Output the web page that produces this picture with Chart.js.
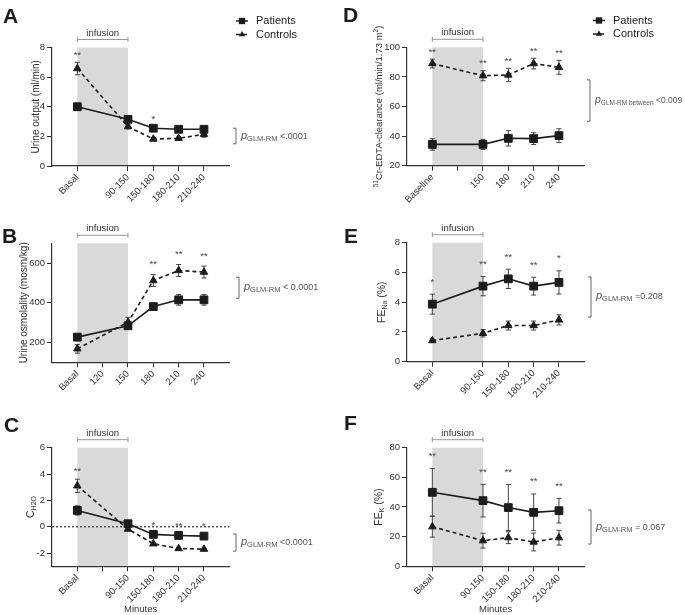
<!DOCTYPE html>
<html lang="en">
<head>
<meta charset="UTF-8" />
<title>Renal response to infusion: patients vs controls</title>
<style>
  body { margin: 0; background: #fff; }
  #fig { position: relative; width: 685px; height: 615px; overflow: hidden; }
  #fig canvas { position: absolute; }
</style>
</head>
<body>
<div id="fig">
  <canvas id="chartA"></canvas>
  <canvas id="chartB"></canvas>
  <canvas id="chartC"></canvas>
  <canvas id="chartD"></canvas>
  <canvas id="chartE"></canvas>
  <canvas id="chartF"></canvas>
</div>

<script src="https://cdn.jsdelivr.net/npm/chart.js@4"></script>
<script>
// position of each sample on the time axis (one empty slot between basal and first post-infusion sample)
const xPos = [0, 2, 3, 4, 5];
const infusionSpan = [0, 2];

// A - urine output
const xTicksA = [0, 2, 3, 4, 5];
const xLabelsA = ['Basal', '90-150', '150-180', '180-210', '210-240'];
const yTicksA = [0, 2, 4, 6, 8];
const patientsA = [4.0, 3.15, 2.55, 2.48, 2.48];
const patientsErrA = [0.23, 0.15, 0.12, 0.12, 0.12];
const controlsA = [6.58, 2.66, 1.82, 1.87, 2.14];
const controlsErrA = [0.42, 0.15, 0.1, 0.1, 0.2];
const starsA = ['**', '', '*', '', ''];

// B - urine osmolality
const xTicksB = [0, 1, 2, 3, 4, 5];
const xLabelsB = ['Basal', '120', '150', '180', '210', '240'];
const yTicksB = [200, 400, 600];
const patientsB = [227, 284, 381, 415, 415];
const patientsErrB = [18, 15, 16, 27, 27];
const controlsB = [168, 302, 512, 563, 555];
const controlsErrB = [22, 25, 30, 30, 30];
const starsB = ['', '', '**', '**', '**'];

// C - free water clearance
const xTicksC = [0, 1, 2, 3, 4, 5];
const xLabelsC = ['Basal', '', '90-150', '150-180', '180-210', '210-240'];
const yTicksC = [-2, 0, 2, 4, 6];
const patientsC = [1.24, 0.23, -0.58, -0.66, -0.71];
const patientsErrC = [0.35, 0.12, 0.1, 0.1, 0.1];
const controlsC = [3.11, -0.18, -1.29, -1.65, -1.70];
const controlsErrC = [0.5, 0.1, 0.1, 0.08, 0.08];
const starsC = ['**', '', '*', '**', '*'];

// D - 51Cr-EDTA clearance
const xTicksD = [0, 1, 2, 3, 4, 5];
const xLabelsD = ['Baseline', '', '150', '180', '210', '240'];
const yTicksD = [20, 40, 60, 80, 100];
const patientsD = [34.4, 34.4, 38.5, 38.3, 40.3];
const patientsErrD = [3.9, 3.4, 5.2, 4.0, 4.7];
const controlsD = [89.0, 80.8, 81.3, 89.0, 86.5];
const controlsErrD = [3.0, 3.4, 4.5, 3.6, 4.7];
const starsD = ['**', '**', '**', '**', '**'];

// E - FE Na
const xTicksE = [0, 2, 3, 4, 5];
const xLabelsE = ['Basal', '90-150', '150-180', '180-210', '210-240'];
const yTicksE = [0, 2, 4, 6, 8];
const patientsE = [3.87, 5.08, 5.57, 5.08, 5.33];
const patientsErrE = [0.67, 0.65, 0.65, 0.6, 0.78];
const controlsE = [1.42, 1.91, 2.43, 2.43, 2.81];
const controlsErrE = [0.1, 0.25, 0.3, 0.3, 0.34];
const starsE = ['*', '**', '**', '**', '*'];

// F - FE K
const xTicksF = [0, 2, 3, 4, 5];
const xLabelsF = ['Basal', '90-150', '150-180', '180-210', '210-240'];
const yTicksF = [0, 20, 40, 60, 80];
const patientsF = [49.9, 44.3, 39.6, 36.4, 37.5];
const patientsErrF = [16, 11, 15.5, 12.4, 8.3];
const controlsF = [26.7, 17.3, 19.3, 16.4, 19.3];
const controlsErrF = [7, 5, 4, 6, 5];
const starsF = ['**', '**', '**', '**', '**'];

const FONT = "'Liberation Sans', Arial, Helvetica, sans-serif";
const INK = '#1c1c1c';
Chart.defaults.font.family = FONT;

const pSeg = { t: 'p', size: 11, italic: true };
const panels = [
  { id: 'chartA', letter: 'A', letterPos: [3, 22.5], box: [0, 0, 342, 205], area: [52, 47.5, 229.3, 166],
    yRange: [0, 8], yTicks: yTicksA, xTicks: xTicksA, xLabels: xLabelsA,
    patients: patientsA, patientsErr: patientsErrA, controls: controlsA, controlsErr: controlsErrA,
    stars: starsA, starGap: 10, titleX: 35,
    title: [{ t: 'Urine output (ml/min)', size: 10 }],
    legend: [236, 21], bracket: [236, 1.5, 2.55],
    pText: [pSeg, { t: 'GLM-RM', size: 7.5, dy: 2 }, { t: ' <.0001', size: 9 }] },
  { id: 'chartB', letter: 'B', letterPos: [2, 243], box: [0, 205, 342, 200], area: [52, 243.3, 229.3, 362.3],
    yRange: [100, 700], yTicks: yTicksB, xTicks: xTicksB, xLabels: xLabelsB,
    patients: patientsB, patientsErr: patientsErrB, controls: controlsB, controlsErr: controlsErrB,
    stars: starsB, starGap: 13, titleX: 23.5,
    title: [{ t: 'Urine osmolality (mosm/kg)', size: 10 }],
    bracket: [239, 423, 529],
    pText: [pSeg, { t: 'GLM-RM', size: 7.5, dy: 2 }, { t: ' < 0.0001', size: 9 }] },
  { id: 'chartC', letter: 'C', letterPos: [4, 432], box: [0, 405, 342, 210], area: [52, 447.7, 229.3, 566.3],
    yRange: [-3, 6], yTicks: yTicksC, xTicks: xTicksC, xLabels: xLabelsC,
    patients: patientsC, patientsErr: patientsErrC, controls: controlsC, controlsErr: controlsErrC,
    stars: starsC, starGap: 11, titleX: 30, zeroLine: true, minutes: true,
    title: [{ t: 'C', size: 10.5 }, { t: 'H2O', size: 7, dy: 2.5 }],
    bracket: [236, -1.85, -0.55],
    pText: [pSeg, { t: 'GLM-RM', size: 7.5, dy: 2 }, { t: ' <0.0001', size: 9 }] },
  { id: 'chartD', letter: 'D', letterPos: [343, 22], box: [342, 0, 343, 205], area: [407, 47.3, 584.3, 165.7],
    yRange: [20, 100], yTicks: yTicksD, xTicks: xTicksD, xLabels: xLabelsD,
    patients: patientsD, patientsErr: patientsErrD, controls: controlsD, controlsErr: controlsErrD,
    stars: starsD, starGap: 10, titleX: 378,
    title: [{ t: '51', size: 6.5, dy: -3.5 }, { t: 'Cr-EDTA-clearance (ml/min/1.73 m', size: 9.5 },
            { t: '2', size: 6.5, dy: -3.5 }, { t: ')', size: 9.5 }],
    legend: [593, 20.5], bracket: [590, 50, 78],
    pText: [{ t: 'p', size: 10.5, italic: true }, { t: 'GLM-RM between', size: 6.5, dy: 2 }, { t: ' <0.009', size: 8.5 }] },
  { id: 'chartE', letter: 'E', letterPos: [344, 243], box: [342, 205, 343, 200], area: [407, 242.7, 584.3, 361.7],
    yRange: [0, 8], yTicks: yTicksE, xTicks: xTicksE, xLabels: xLabelsE,
    patients: patientsE, patientsErr: patientsErrE, controls: controlsE, controlsErr: controlsErrE,
    stars: starsE, starGap: 15, titleX: 381,
    title: [{ t: 'FE', size: 10.5 }, { t: 'Na', size: 7, dy: 2.5 }, { t: ' (%)', size: 10.5 }],
    bracket: [591, 3.0, 5.7],
    pText: [pSeg, { t: 'GLM-RM', size: 7.5, dy: 2 }, { t: ' =0.208', size: 9 }] },
  { id: 'chartF', letter: 'F', letterPos: [344, 430], box: [342, 405, 343, 210], area: [407, 447.7, 584.3, 566.3],
    yRange: [0, 80], yTicks: yTicksF, xTicks: xTicksF, xLabels: xLabelsF,
    patients: patientsF, patientsErr: patientsErrF, controls: controlsF, controlsErr: controlsErrF,
    stars: starsF, starGap: 15, titleX: 378, minutes: true,
    title: [{ t: 'FE', size: 10.5 }, { t: 'K', size: 7, dy: 2.5 }, { t: ' (%)', size: 10.5 }],
    bracket: [591, 15, 38],
    pText: [pSeg, { t: 'GLM-RM', size: 7.5, dy: 2 }, { t: ' = 0.067', size: 9 }] }
];

// rich text: segments with own size / offset (sub- and superscripts)
function drawRich(ctx, segs, x, y, rot, align) {
  ctx.save();
  ctx.translate(x, y);
  ctx.rotate(rot);
  const fonts = segs.map(s => (s.italic ? 'italic ' : '') + s.size + 'px ' + FONT);
  const widths = segs.map((s, i) => { ctx.font = fonts[i]; return ctx.measureText(s.t).width; });
  const total = widths.reduce((a, b) => a + b, 0);
  let cx = align === 'center' ? -total / 2 : 0;
  ctx.textAlign = 'left';
  ctx.textBaseline = 'alphabetic';
  segs.forEach((s, i) => {
    ctx.font = fonts[i];
    ctx.fillText(s.t, cx, 3.5 + (s.dy || 0));
    cx += widths[i];
  });
  ctx.restore();
}

function marker(ctx, style, x, y, r) {
  ctx.beginPath();
  if (style === 'rect') {
    const h = r * Math.SQRT1_2;
    ctx.rect(x - h, y - h, 2 * h, 2 * h);
  } else {
    ctx.moveTo(x, y - r);
    ctx.lineTo(x + r * 0.866, y + r * 0.5);
    ctx.lineTo(x - r * 0.866, y + r * 0.5);
    ctx.closePath();
  }
  ctx.fill();
}

const decor = {
  id: 'decor',
  beforeDraw(chart, args, opts) {
    const { ctx, chartArea: a, scales: { x } } = chart;
    const x0 = x.getPixelForValue(infusionSpan[0]);
    const x1 = x.getPixelForValue(infusionSpan[1]);
    ctx.save();
    ctx.fillStyle = '#d9d9d9';
    ctx.fillRect(x0, a.top, x1 - x0, a.bottom - a.top);
    ctx.restore();
  },
  beforeDatasetsDraw(chart, args, opts) {
    const p = opts.panel;
    const { ctx, chartArea: a, scales: { x, y } } = chart;
    ctx.save();
    if (p.zeroLine) {
      ctx.strokeStyle = '#444';
      ctx.lineWidth = 1.3;
      ctx.setLineDash([2, 2]);
      ctx.beginPath();
      ctx.moveTo(a.left, y.getPixelForValue(0));
      ctx.lineTo(a.right, y.getPixelForValue(0));
      ctx.stroke();
      ctx.setLineDash([]);
    }
    // error bars (mean +- SEM)
    ctx.strokeStyle = '#444';
    ctx.lineWidth = 1;
    chart.data.datasets.forEach(ds => {
      ds.data.forEach((pt, i) => {
        const e = ds.errors[i];
        const px = x.getPixelForValue(pt.x);
        const yt = y.getPixelForValue(pt.y + e);
        const yb = y.getPixelForValue(pt.y - e);
        ctx.beginPath();
        ctx.moveTo(px, yt); ctx.lineTo(px, yb);
        ctx.moveTo(px - 2.5, yt); ctx.lineTo(px + 2.5, yt);
        ctx.moveTo(px - 2.5, yb); ctx.lineTo(px + 2.5, yb);
        ctx.stroke();
      });
    });
    ctx.restore();
  },
  afterDraw(chart, args, opts) {
    const p = opts.panel;
    const { ctx, scales: { x, y } } = chart;
    const [bl, bt] = p.box;
    const [al, at, ar, ab] = p.area;
    ctx.save();
    ctx.translate(-bl, -bt);

    // panel letter
    ctx.fillStyle = INK;
    ctx.font = 'bold 21px ' + FONT;
    ctx.textAlign = 'left';
    ctx.textBaseline = 'alphabetic';
    ctx.fillText(p.letter, p.letterPos[0], p.letterPos[1]);

    // y axis title
    ctx.fillStyle = '#333';
    drawRich(ctx, p.title, p.titleX, (at + ab) / 2, -Math.PI / 2, 'center');

    // infusion bracket
    const ix0 = x.getPixelForValue(infusionSpan[0]) + bl;
    const ix1 = x.getPixelForValue(infusionSpan[1]) + bl;
    const iy = at - 8;
    ctx.strokeStyle = '#999';
    ctx.lineWidth = 1;
    ctx.beginPath();
    ctx.moveTo(ix0, iy); ctx.lineTo(ix1, iy);
    ctx.moveTo(ix0, iy - 2.5); ctx.lineTo(ix0, iy + 2.5);
    ctx.moveTo(ix1, iy - 2.5); ctx.lineTo(ix1, iy + 2.5);
    ctx.stroke();
    ctx.fillStyle = '#333';
    ctx.font = '9.5px ' + FONT;
    ctx.textAlign = 'center';
    ctx.fillText('infusion', (ix0 + ix1) / 2, at - 12);

    // significance stars above the highest error bar
    ctx.fillStyle = '#444';
    ctx.font = '9.5px ' + FONT;
    p.stars.forEach((s, i) => {
      if (!s) return;
      const top = Math.min(
        y.getPixelForValue(p.patients[i] + p.patientsErr[i]),
        y.getPixelForValue(p.controls[i] + p.controlsErr[i])) + bt;
      ctx.fillText(s, x.getPixelForValue(xPos[i]) + bl, top - p.starGap + 5.5);
    });

    // p-value bracket
    const [bx, lo, hi] = p.bracket;
    const by0 = y.getPixelForValue(hi) + bt;
    const by1 = y.getPixelForValue(lo) + bt;
    ctx.strokeStyle = '#666';
    ctx.lineWidth = 1;
    ctx.beginPath();
    ctx.moveTo(bx - 3, by0); ctx.lineTo(bx, by0); ctx.lineTo(bx, by1); ctx.lineTo(bx - 3, by1);
    ctx.stroke();
    ctx.fillStyle = '#555';
    drawRich(ctx, p.pText, bx + 5, (by0 + by1) / 2 - 1, 0, 'left');

    // legend
    if (p.legend) {
      const [lx, ly] = p.legend;
      chart.data.datasets.forEach((ds, k) => {
        const yy = ly + k * 13.5;
        ctx.strokeStyle = INK;
        ctx.lineWidth = 1.5;
        ctx.setLineDash(ds.borderDash);
        ctx.beginPath();
        ctx.moveTo(lx, yy); ctx.lineTo(lx + 12, yy);
        ctx.stroke();
        ctx.setLineDash([]);
        ctx.fillStyle = INK;
        marker(ctx, ds.pointStyle, lx + 6, yy, ds.pointStyle === 'rect' ? 4.5 : 3.6);
        ctx.fillStyle = '#222';
        ctx.font = '11px ' + FONT;
        ctx.textAlign = 'left';
        ctx.textBaseline = 'middle';
        ctx.fillText(ds.label, lx + 20, yy);
        ctx.textBaseline = 'alphabetic';
      });
    }

    // x axis title
    if (p.minutes) {
      ctx.fillStyle = '#333';
      ctx.font = '9.5px ' + FONT;
      ctx.textAlign = 'center';
      ctx.fillText('Minutes', (al + ar) / 2, 612);
    }
    ctx.restore();
  }
};

function series(label, values, errors, style, radius, dash) {
  return {
    label,
    data: xPos.map((v, i) => ({ x: v, y: values[i] })),
    errors,
    borderColor: INK,
    borderWidth: 1.6,
    borderDash: dash,
    pointStyle: style,
    pointRadius: radius,
    pointBackgroundColor: INK,
    pointBorderColor: INK,
    pointBorderWidth: 1,
    tension: 0,
    fill: false
  };
}

function makeChart(p) {
  const cv = document.getElementById(p.id);
  const [bl, bt, bw, bh] = p.box;
  const [al, at, ar, ab] = p.area;
  cv.width = bw; cv.height = bh;
  cv.style.left = bl + 'px'; cv.style.top = bt + 'px';
  cv.style.width = bw + 'px'; cv.style.height = bh + 'px';
  const axisCommon = {
    grid: { drawOnChartArea: false, tickLength: 5, color: '#333', lineWidth: 1 },
    border: { color: '#333', width: 1.2 }
  };
  return new Chart(cv, {
    type: 'line',
    data: {
      datasets: [
        series('Patients', p.patients, p.patientsErr, 'rect', 5.5, []),
        series('Controls', p.controls, p.controlsErr, 'triangle', 4.3, [4, 3])
      ]
    },
    options: {
      responsive: false,
      animation: false,
      layout: { autoPadding: false, padding: { left: 0, top: at - bt, right: bl + bw - ar, bottom: 0 } },
      plugins: { legend: { display: false }, tooltip: { enabled: false }, decor: { panel: p } },
      scales: {
        x: {
          type: 'linear', min: -1, max: 6,
          afterBuildTicks: s => { s.ticks = p.xTicks.map(v => ({ value: v })); },
          afterFit: s => { s.height = bt + bh - ab; },
          ticks: {
            callback: (v, i) => p.xLabels[i],
            minRotation: 45, maxRotation: 45, autoSkip: false, padding: 1,
            color: '#333', font: { size: 9.5 }
          },
          ...axisCommon
        },
        y: {
          min: p.yRange[0], max: p.yRange[1],
          afterBuildTicks: s => { s.ticks = p.yTicks.map(v => ({ value: v })); },
          afterFit: s => { s.width = al - bl; },
          ticks: { padding: 2, color: '#333', font: { size: 9.5 } },
          ...axisCommon
        }
      }
    },
    plugins: [decor]
  });
}

panels.forEach(makeChart);
</script>
</body>
</html>
